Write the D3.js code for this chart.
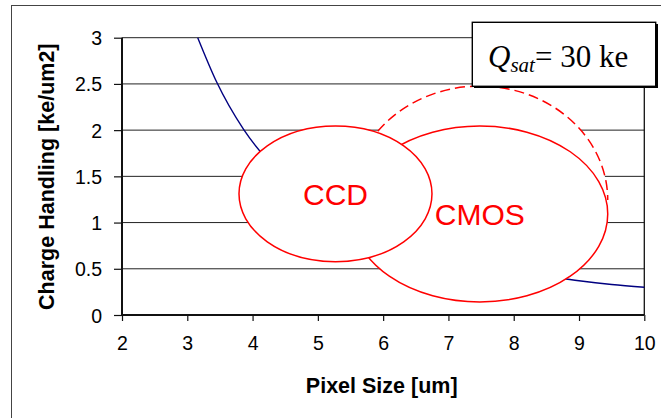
<!DOCTYPE html>
<html>
<head>
<meta charset="utf-8">
<script src="https://cdn.jsdelivr.net/npm/d3@7"></script>
<style>
  html, body { margin: 0; padding: 0; background: #fff; }
  svg { display: block; }
</style>
</head>
<body>
<svg id="chart" width="661" height="418"></svg>
<script>
// ---- data ----
const pixelSize = [3.16, 3.45, 3.86, 4.3, 5, 6, 7, 8, 8.5, 9, 9.5, 10];
const chargeHandling = [3.0, 2.52, 2.01, 1.62, 1.2, 0.83, 0.61, 0.47, 0.42, 0.37, 0.33, 0.30];
const xTickValues = [2, 3, 4, 5, 6, 7, 8, 9, 10];
const yTickValues = [0, 0.5, 1, 1.5, 2, 2.5, 3];
const yTickLabels = ["0", "0.5", "1", "1.5", "2", "2.5", "3"];
// technology regions (in data units: centre pixel size, centre charge, half-width, half-height)
const regionNames = ["CMOS (future)", "CMOS", "CCD"];
const regionLabels = ["", "CMOS", "CCD"];
const regionCx = [7.48, 7.48, 5.27];
const regionCy = [1.244, 1.093, 1.311];
const regionRx = [1.96, 1.96, 1.478];
const regionRy = [1.233, 0.952, 0.734];
const regionDashed = [true, false, false];
const xTitle = "Pixel Size [um]";
const yTitle = "Charge Handling [ke/um2]";

// ---- layout ----
const svg = d3.select("#chart");
const L = 122, R = 644.3, T = 37.7, B = 315;
const x = d3.scaleLinear().domain([2, 10]).range([L, R]);
const y = d3.scaleLinear().domain([0, 3]).range([B, T]);

// outer chart frame (extends past the window on right/bottom)
svg.append("rect").attr("x", 11.5).attr("y", 5.5).attr("width", 700).attr("height", 500)
  .attr("fill", "none").attr("stroke", "#444").attr("stroke-width", 1);

// gridlines
svg.append("g").selectAll("line").data(yTickValues.filter(v => v > 0)).join("line")
  .attr("x1", L).attr("x2", R).attr("y1", d => y(d)).attr("y2", d => y(d))
  .attr("stroke", "#222").attr("stroke-width", 1);
// right border
svg.append("line").attr("x1", R).attr("x2", R).attr("y1", T).attr("y2", B)
  .attr("stroke", "#111").attr("stroke-width", 1.3);

// axes
const yAxis = d3.axisLeft(y).tickValues(yTickValues)
  .tickFormat((d, i) => yTickLabels[i]).tickSize(8).tickPadding(12);
const gy = svg.append("g").attr("transform", `translate(${L},0)`).call(yAxis);
const xAxis = d3.axisBottom(x).tickValues(xTickValues).tickFormat(d3.format("d"))
  .tickSize(6).tickPadding(15);
const gx = svg.append("g").attr("transform", `translate(0,${B})`).call(xAxis);
[gx, gy].forEach(g => {
  g.select(".domain").attr("stroke", "#111").attr("stroke-width", 2)
    .attr("d", g === gx ? `M${L},0H${R}` : `M0,${B}V${T}`);
  g.selectAll(".tick line").attr("stroke", "#111").attr("stroke-width", 1.2);
  g.selectAll(".tick text").attr("font-family", "Liberation Sans, Arial, sans-serif")
    .attr("font-size", 19.5).attr("fill", "#000");
});
gy.selectAll(".tick text").attr("dy", "0.36em");

// data line
const lineData = pixelSize.map((p, i) => [p, chargeHandling[i]]);
svg.append("path").datum(lineData)
  .attr("d", d3.line().x(d => x(d[0])).y(d => y(d[1])).curve(d3.curveMonotoneX))
  .attr("fill", "none").attr("stroke", "#000080").attr("stroke-width", 1.4);

// region ellipses
regionNames.forEach((name, i) => {
  const cx = x(regionCx[i]), cy = y(regionCy[i]);
  const rx = x(regionCx[i] + regionRx[i]) - cx;
  const ry = cy - y(regionCy[i] + regionRy[i]);
  if (regionDashed[i]) {
    // only the upper half-arc is drawn (projected extension)
    const arc = `M${cx - rx},${cy} A${rx},${ry} 0 0 1 ${cx + rx},${cy}`;
    svg.append("path").attr("d", arc + "Z").attr("fill", "#fff").attr("stroke", "none");
    svg.append("path").attr("class", "region").attr("data-name", name).attr("d", arc)
      .attr("fill", "none").attr("stroke", "#ff0000").attr("stroke-width", 1.5)
      .attr("stroke-dasharray", "10,5");
  } else {
    svg.append("ellipse").attr("class", "region").attr("data-name", name)
      .attr("cx", cx).attr("cy", cy).attr("rx", rx).attr("ry", ry)
      .attr("fill", "#fff").attr("stroke", "#ff0000").attr("stroke-width", 1.5);
  }
});
// region labels (drawn after all ellipses)
regionNames.forEach((name, i) => {
  if (!regionLabels[i]) return;
  svg.append("text")
    .attr("x", x(regionCx[i]))
    .attr("y", y(regionCy[i]))
    .attr("dy", "0.36em")
    .attr("text-anchor", "middle")
    .attr("font-family", "Liberation Sans, Arial, sans-serif")
    .attr("font-size", 30).attr("fill", "#ff0000")
    .text(regionLabels[i]);
});

// annotation box
const box = svg.append("g");
box.append("rect").attr("x", 474).attr("y", 24).attr("width", 184).attr("height", 64).attr("fill", "#000");
box.append("rect").attr("x", 472.3).attr("y", 22.3).attr("width", 183.4).attr("height", 64)
  .attr("fill", "#fff").attr("stroke", "#000").attr("stroke-width", 1.4);
const qt = box.append("text").attr("x", 488).attr("y", 66.5)
  .attr("font-family", "Liberation Serif, 'Times New Roman', serif").attr("font-size", 31).attr("fill", "#000");
qt.append("tspan").attr("font-style", "italic").text("Q");
qt.append("tspan").attr("font-style", "italic").attr("font-size", 21).attr("dy", 5.5).text("sat");
qt.append("tspan").attr("dy", -5.5).text("= 30 ke");

// axis titles
svg.append("text").attr("x", 381.7).attr("y", 393.3).attr("text-anchor", "middle")
  .attr("font-family", "Liberation Sans, Arial, sans-serif").attr("font-weight", "bold")
  .attr("font-size", 21.5).attr("fill", "#000").text(xTitle);
svg.append("text").attr("transform", "translate(53.5,176.7) rotate(-90)").attr("text-anchor", "middle")
  .attr("font-family", "Liberation Sans, Arial, sans-serif").attr("font-weight", "bold")
  .attr("font-size", 21.5).attr("fill", "#000").text(yTitle);
</script>
</body>
</html>
